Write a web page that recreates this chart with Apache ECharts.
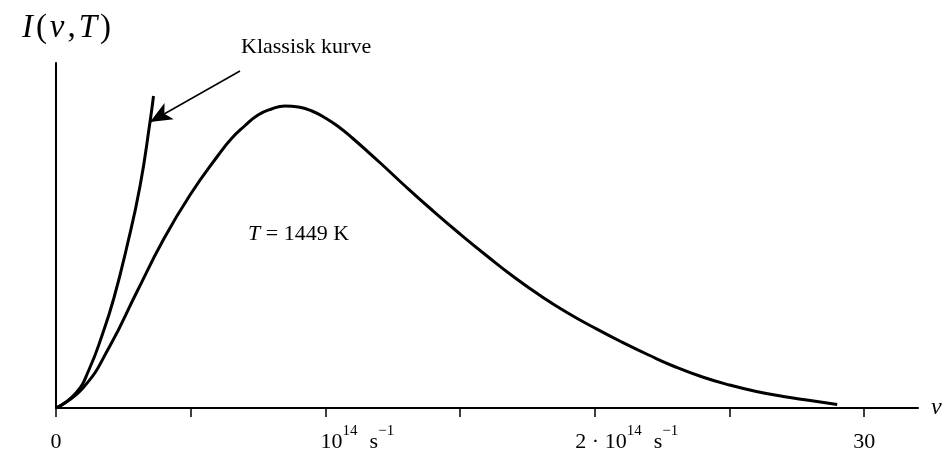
<!DOCTYPE html>
<html>
<head>
<meta charset="utf-8">
<script src="https://cdn.jsdelivr.net/npm/echarts@6/dist/echarts.min.js"></script>
<style>
  html, body { margin: 0; padding: 0; background: #fff; }
  #planck-chart { width: 951px; height: 454px; }
</style>
</head>
<body>
<div id="planck-chart"></div>
<script>
// Planck-kurve, T = 1449 K (frekvens i 10^14 s^-1, intensitet i vilkaarlige enheter)
var nuPlanck = [0, 0.1, 0.2, 0.3, 0.4, 0.5, 0.6, 0.65, 0.7, 0.75, 0.8, 0.85, 0.9, 0.95, 1.0, 1.05, 1.1,
    1.2, 1.3, 1.4, 1.5, 1.6, 1.7, 1.8, 1.9, 2.0, 2.1, 2.2, 2.3, 2.4, 2.5, 2.6, 2.7, 2.8, 2.9];
var iPlanck = [0, 0.20, 0.62, 1.16, 1.69, 2.14, 2.52, 2.69, 2.82, 2.93, 2.99, 3.02, 3.01, 2.97, 2.90, 2.81, 2.70,
    2.46, 2.21, 1.97, 1.74, 1.52, 1.31, 1.12, 0.95, 0.80, 0.66, 0.53, 0.41, 0.31, 0.23, 0.165, 0.115, 0.075, 0.035];

// klassisk (Rayleigh-Jeans) kurve
var nuClassic = [0, 0.074, 0.122, 0.174, 0.215, 0.262, 0.312, 0.349, 0.362];
var iClassic = [0, 0.15, 0.38, 0.75, 1.10, 1.60, 2.22, 2.86, 3.12];

// akse-etiketter
var tickValues = [0, 1, 2, 3];
var tickLabels = ['{n|0}', '{gap|}{n|10}{sup|14}{sp|}{n|s}{sup|\u22121}', '{gap|}{n|2 \u00b7 10}{sup|14}{sp|}{n|s}{sup|\u22121}', '{n|30}'];

// pil til "Klassisk kurve"
var arrowFrom = [0.683, 3.37];
var arrowTo = [0.349, 2.86];

function pairs(xs, ys) {
    var out = [];
    for (var i = 0; i < xs.length; i++) {
        out.push([xs[i], ys[i]]);
    }
    return out;
}

var serif = '"Liberation Serif", "DejaVu Serif", serif';

var chart = echarts.init(document.getElementById('planck-chart'));

var option = {
    animation: false,
    backgroundColor: '#fff',
    title: [{
        text: 'Klassisk kurve',
        left: 236,
        top: 31,
        textStyle: { fontFamily: serif, fontWeight: 'normal', fontSize: 22, color: '#000' }
    }, {
        text: '{i|T}{r| = 1449 K}',
        left: 243,
        top: 218,
        textStyle: {
            fontWeight: 'normal',
            rich: {
                i: { fontFamily: serif, fontStyle: 'italic', fontWeight: 'normal', fontSize: 22, color: '#000' },
                r: { fontFamily: serif, fontWeight: 'normal', fontSize: 22, color: '#000' }
            }
        }
    }],
    grid: { left: 56, right: 33, top: 63, bottom: 46 },
    xAxis: {
        type: 'value',
        min: 0,
        max: 3.2,
        interval: 0.5,
        name: '\u03bd',
        nameLocation: 'end',
        nameGap: 13,
        nameTextStyle: { fontFamily: serif, fontStyle: 'italic', fontSize: 24, color: '#000' },
        axisLine: { lineStyle: { color: '#000', width: 2 } },
        axisTick: { show: true, length: 9, lineStyle: { color: '#000', width: 1.5 } },
        splitLine: { show: false },
        axisLabel: {
            margin: 16,
            showMaxLabel: false,
            formatter: function (v) {
                var k = tickValues.indexOf(v);
                return k >= 0 ? tickLabels[k] : '';
            },
            rich: {
                n: { fontFamily: serif, fontSize: 22, color: '#000', lineHeight: 29, verticalAlign: 'bottom' },
                sup: { fontFamily: serif, fontSize: 15, color: '#000', lineHeight: 29, verticalAlign: 'top' },
                sp: { width: 12 },
                gap: { width: 64 }
            }
        }
    },
    yAxis: {
        type: 'value',
        min: 0,
        max: 3.45,
        name: '{i|I}{r|(}{i|\u03bd}{r|,}{i|T}{r|)}',
        nameLocation: 'end',
        nameGap: 18,
        nameTextStyle: {
            padding: [0, 0, 0, 22],
            rich: {
                i: { fontFamily: serif, fontStyle: 'italic', fontSize: 33, color: '#000', padding: [0, 1, 0, 1] },
                r: { fontFamily: serif, fontSize: 33, color: '#000', padding: [0, 2, 0, 2] }
            }
        },
        axisLine: { show: true, lineStyle: { color: '#000', width: 2 } },
        axisTick: { show: false },
        axisLabel: { show: false },
        splitLine: { show: false }
    },
    series: [{
        name: 'Planck',
        type: 'line',
        smooth: true,
        showSymbol: false,
        lineStyle: { color: '#000', width: 3 },
        data: pairs(nuPlanck, iPlanck)
    }, {
        name: 'Klassisk',
        type: 'line',
        smooth: true,
        showSymbol: false,
        lineStyle: { color: '#000', width: 3 },
        data: pairs(nuClassic, iClassic),
        markLine: {
            silent: true,
            symbol: ['none', 'arrow'],
            symbolSize: [14, 22],
            label: { show: false },
            lineStyle: { color: '#000', width: 1.5, type: 'solid' },
            data: [[{ coord: arrowFrom }, { coord: arrowTo }]]
        }
    }]
};

chart.setOption(option);
</script>
</body>
</html>
